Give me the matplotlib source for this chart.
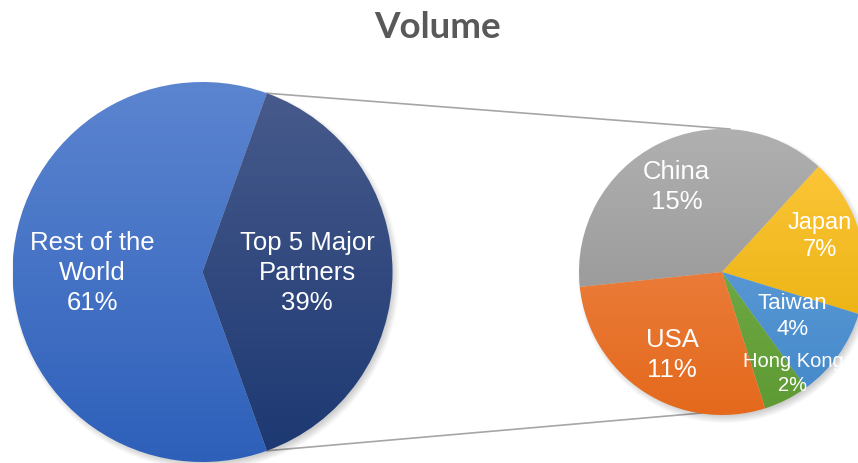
import numpy as np
import matplotlib
matplotlib.use('Agg')
import matplotlib.pyplot as plt
from matplotlib.colors import to_rgb

# data
main_labels = ['Rest of the\nWorld', 'Top 5 Major\nPartners']
main_values = [61, 39]
sub_labels = ['China', 'Japan', 'Taiwan', 'Hong Kong', 'USA']
sub_values = [15, 7, 4, 2, 11]

# gradient colours (top, bottom) per wedge
main_colors = [('#5C85D0', '#2E60BA'), ('#485B8C', '#1C3872')]
sub_colors = [('#B0B0B0', '#8C8C8C'), ('#FFC93F', '#E3AA00'),
              ('#6AA5DC', '#4388CA'), ('#7DB552', '#5E9A34'),
              ('#F08D55', '#E4691C')]

W, H = 858, 464
fig = plt.figure(figsize=(W / 100, H / 100), dpi=100)
ax = fig.add_axes([0, 0, 1, 1])
ax.set_xlim(0, W)
ax.set_ylim(0, H)
ax.set_aspect('equal')
ax.axis('off')

c1, r1 = (202.5, 464 - 273), 190
c2, r2 = (722, 464 - 273), 143


def shadow(c, r):
    for k in range(8):
        circ = plt.Circle((c[0] + 3, c[1] - 4), r + 4 - k, color='k',
                          alpha=0.022, lw=0, zorder=1)
        ax.add_patch(circ)


def grad_fill(wedges, colors, c, r):
    for w, (top, bot) in zip(wedges, colors):
        t = np.linspace(0, 1, 256)[:, None]
        a, b = np.array(to_rgb(top)), np.array(to_rgb(bot))
        img = a[None, None, :] * (1 - t[..., None]) + b[None, None, :] * t[..., None]
        img = np.repeat(img, 2, axis=1)
        im = ax.imshow(img, extent=(c[0] - r, c[0] + r, c[1] - r, c[1] + r),
                       origin='upper', zorder=3, interpolation='bilinear')
        im.set_clip_path(w)
        w.set_facecolor('none')


shadow(c1, r1)
shadow(c2, r2)

start1 = main_values[1] / sum(main_values) * 360 / 2
w1, _ = ax.pie(main_values, center=c1, radius=r1, startangle=start1,
               counterclock=True, frame=True,
               wedgeprops=dict(linewidth=0, zorder=2))
w2, _ = ax.pie(sub_values, center=c2, radius=r2, startangle=186,
               counterclock=False, frame=True,
               wedgeprops=dict(linewidth=0, zorder=2))
grad_fill(w1, main_colors, c1, r1)
grad_fill(w2, sub_colors, c2, r2)
ax.set_xlim(0, W)
ax.set_ylim(0, H)
ax.axis('off')

# connector lines
w_top = w1[1]
a_hi = np.deg2rad(w_top.theta2)
a_lo = np.deg2rad(w_top.theta1)
p_hi = (c1[0] + r1 * np.cos(a_hi), c1[1] + r1 * np.sin(a_hi))
p_lo = (c1[0] + r1 * np.cos(a_lo), c1[1] + r1 * np.sin(a_lo))
ax.plot([p_hi[0], c2[0] + 8], [p_hi[1], c2[1] + r2], color='#A6A6A6', lw=1.2, zorder=0.5)
ax.plot([p_lo[0], c2[0] - 20], [p_lo[1], c2[1] - r2 + 2], color='#A6A6A6', lw=1.2, zorder=0.5)


def put_labels(wedges, labels, values, c, r, fracs, sizes, total):
    for w, lab, v, f, s in zip(wedges, labels, values, fracs, sizes):
        ang = np.deg2rad((w.theta1 + w.theta2) / 2)
        x = c[0] + f[0] * r * np.cos(ang + np.deg2rad(f[1]))
        y = c[1] + f[0] * r * np.sin(ang + np.deg2rad(f[1]))
        ax.text(x, y, '%s\n%d%%' % (lab, round(v / total * 100)),
                ha='center', va='center', color='white', fontsize=s,
                family='Liberation Sans', linespacing=1.3, zorder=5)


put_labels(w1, main_labels, main_values, c1, r1,
           [(0.58, 0), (0.55, 0)], [18.5, 18.5], sum(main_values))
put_labels(w2, sub_labels, sub_values, c2, r2,
           [(0.68, 1), (0.73, 5), (0.58, 4), (0.86, 8.5), (0.67, 2)],
           [18.5, 17, 16, 14.5, 18.5], 100)

fig.text(437.5 / W, 1 - 27 / H, 'Volume', ha='center', va='center',
         fontsize=26.5, fontweight='bold', family='Lato', color='#595959')

fig.savefig('out.png', dpi=100)
